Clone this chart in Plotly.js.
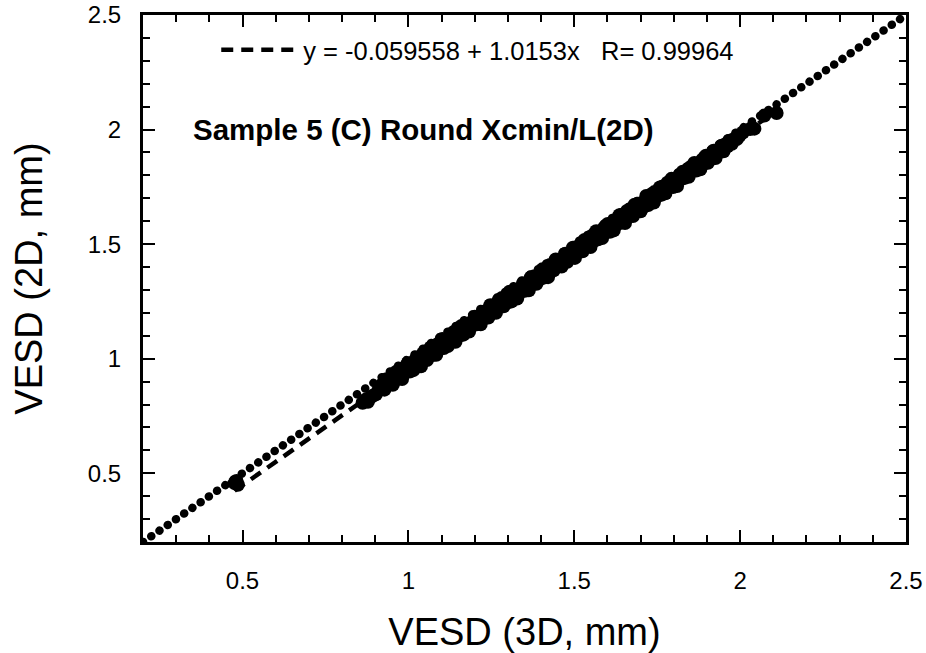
<!DOCTYPE html>
<html>
<head>
<meta charset="utf-8">
<script src="https://cdn.plot.ly/plotly-3.0.1.min.js"></script>
<style>html,body{margin:0;padding:0;background:#fff;}#chart{width:926px;height:653px;}</style>
</head>
<body>
<div id="chart"></div>
<script>
// Measured VESD pairs (3D, 2D) in mm
const vesd3D = [0.476,0.486,0.482,0.862,0.872,0.878,0.884,0.893,0.902,0.910,
0.921,0.928,0.934,0.941,0.947,0.953,0.958,0.964,0.970,0.975,0.981,0.987,0.992,0.998,
1.004,1.010,1.015,1.021,1.027,1.033,1.038,1.044,1.050,1.056,1.061,1.067,1.073,1.079,1.084,1.090,1.096,
1.102,1.107,1.113,1.119,1.125,1.131,1.137,1.142,1.148,1.154,1.160,1.166,1.171,1.177,1.183,1.189,1.195,
1.200,1.206,1.212,1.218,1.224,1.229,1.235,1.241,1.247,1.253,1.258,1.264,1.270,1.276,1.282,1.287,1.293,1.299,
1.305,1.311,1.316,1.322,1.328,1.334,1.340,1.345,1.351,1.357,1.363,1.369,1.374,1.380,1.386,1.392,1.398,
1.404,1.409,1.415,1.421,1.427,1.433,1.438,1.444,1.450,1.456,1.462,1.467,1.473,1.479,1.485,1.491,1.496,
1.502,1.508,1.514,1.520,1.525,1.531,1.537,1.543,1.549,1.555,1.560,1.566,1.572,1.578,1.584,1.590,1.595,
1.601,1.607,1.613,1.619,1.624,1.630,1.636,1.642,1.648,1.653,1.659,1.665,1.671,1.677,1.682,1.688,1.694,
1.700,1.706,1.711,1.717,1.723,1.729,1.735,1.740,1.746,1.752,1.758,1.764,1.769,1.775,1.781,1.787,1.793,1.798,
1.804,1.810,1.816,1.822,1.827,1.833,1.839,1.845,1.851,1.857,1.862,1.868,1.874,1.880,1.886,1.891,1.897,
1.903,1.909,1.915,1.920,1.926,1.932,1.938,1.944,1.950,1.956,1.962,1.968,1.975,1.982,1.990,1.998,
2.008,2.030,2.043,2.073,2.110];
const vesd2D = [0.457,0.450,0.466,0.808,0.822,0.812,0.830,0.838,0.845,0.862,
0.888,0.865,0.910,0.890,0.917,0.886,0.917,0.943,0.913,0.939,0.911,0.960,0.945,0.980,
0.944,0.973,0.950,0.996,0.975,1.002,0.967,1.023,1.006,0.994,1.029,1.049,1.016,1.041,1.017,1.065,1.044,
1.086,1.047,1.078,1.055,1.097,1.085,1.117,1.074,1.116,1.101,1.143,1.105,1.132,1.152,1.119,1.157,1.147,
1.183,1.150,1.183,1.150,1.203,1.186,1.209,1.180,1.233,1.203,1.224,1.200,1.249,1.231,1.265,1.229,1.264,1.246,
1.292,1.250,1.281,1.299,1.263,1.304,1.293,1.327,1.296,1.331,1.299,1.355,1.332,1.360,1.327,1.361,1.349,
1.390,1.354,1.387,1.356,1.409,1.396,1.386,1.433,1.404,1.433,1.402,1.436,1.458,1.423,1.459,1.448,1.484,
1.440,1.488,1.466,1.492,1.469,1.518,1.497,1.520,1.487,1.538,1.514,1.556,1.521,1.548,1.527,1.572,1.558,
1.588,1.554,1.587,1.560,1.603,1.588,1.626,1.594,1.618,1.592,1.645,1.622,1.649,1.623,1.672,1.649,1.676,
1.643,1.681,1.664,1.710,1.671,1.699,1.720,1.682,1.724,1.711,1.747,1.716,1.744,1.722,1.768,1.752,1.785,1.749,
1.782,1.754,1.799,1.784,1.816,1.789,1.814,1.794,1.837,1.822,1.854,1.821,1.852,1.827,1.868,1.852,1.886,
1.855,1.883,1.874,1.908,1.876,1.910,1.902,1.929,1.905,1.936,1.927,1.951,1.938,1.959,1.959,1.973,
1.987,2.002,2.004,2.061,2.072];

// Identity reference (y = x) across the axis range
const identityX = [0.2, 2.5];
const identityY = [0.2, 2.5];

// Linear fit shown in the legend
const fitIntercept = -0.059558;
const fitSlope = 1.0153;
const fitR = 0.99964;
const fitX = [0.476, 2.11];
const fitY = fitX.map(v => fitIntercept + fitSlope * v);

const tickVals = [0.5, 1, 1.5, 2, 2.5];
const tickText = ['0.5', '1', '1.5', '2', '2.5'];

const FONT = 'Liberation Sans, Arial, Helvetica, sans-serif';

const traces = [
  {
    x: identityX, y: identityY, mode: 'lines', showlegend: false, hoverinfo: 'skip',
    line: {color: '#000', width: 8.5, dash: '0.1px,9.9px'}
  },
  {
    x: fitX, y: fitY, mode: 'lines', showlegend: true,
    name: 'y = -0.059558 + 1.0153x\u00a0\u00a0\u00a0R= ' + fitR,
    line: {color: '#000', width: 4.5, dash: '12px,8px'}
  },
  {
    x: vesd3D, y: vesd2D, mode: 'markers', showlegend: false,
    marker: {color: '#000', size: 14, line: {width: 0}}
  }
];

const axisCommon = {
  range: [0.2, 2.5],
  tickmode: 'array', tickvals: tickVals, ticktext: tickText,
  ticks: 'inside', ticklen: 12, tickwidth: 2, tickcolor: '#000',
  showline: true, linewidth: 3, linecolor: '#000', mirror: 'allticks',
  showgrid: false, zeroline: false,
  minor: {dtick: 0.1, tick0: 0, ticks: 'inside', ticklen: 7, tickwidth: 2, tickcolor: '#000', showgrid: false},
  tickfont: {family: FONT, size: 24, color: '#000'}
};

const layout = {
  width: 926, height: 653,
  margin: {l: 143, r: 20, t: 15, b: 111, pad: 0},
  paper_bgcolor: '#fff', plot_bgcolor: '#fff',
  font: {family: FONT, color: '#000'},
  xaxis: Object.assign({}, axisCommon, {
    ticklabelstandoff: 15,
    title: {text: 'VESD (3D, mm)', font: {family: FONT, size: 38, color: '#000'}, standoff: 27}
  }),
  yaxis: Object.assign({}, axisCommon, {
    ticklabelstandoff: 14,
    title: {text: 'VESD (2D, mm)', font: {family: FONT, size: 38, color: '#000'}, standoff: 34}
  }),
  legend: {
    x: 0.096, y: 0.978, xanchor: 'left', yanchor: 'top',
    bgcolor: 'rgba(0,0,0,0)', borderwidth: 0,
    font: {family: FONT, size: 25.5, color: '#000'},
    itemwidth: 77
  },
  annotations: [{
    xref: 'paper', yref: 'paper', x: 0.368, y: 0.782, xanchor: 'center', yanchor: 'middle',
    text: '<b>Sample 5 (C) Round Xcmin/L(2D)</b>', showarrow: false,
    font: {family: FONT, size: 29.5, color: '#000'}
  }]
};

Plotly.newPlot('chart', traces, layout, {displayModeBar: false, staticPlot: true}).then(() => {
  const lines = document.querySelectorAll('.scatterlayer .trace .js-line');
  if (lines[0]) lines[0].style.strokeLinecap = 'round';
});
</script>
</body>
</html>
